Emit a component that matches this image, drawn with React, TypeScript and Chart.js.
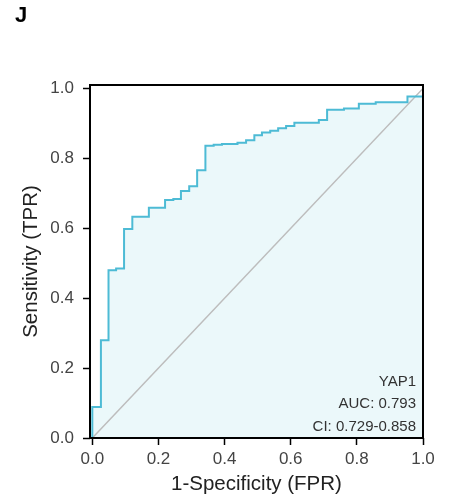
import React, { useEffect, useRef } from "react";
import { Chart, registerables } from "chart.js";

Chart.register(...registerables);

const fpr = [0, 0, 0.026, 0.049, 0.072, 0.096, 0.121, 0.171, 0.22, 0.245, 0.268, 0.293, 0.317, 0.342, 0.367, 0.392, 0.439, 0.465, 0.49, 0.513, 0.538, 0.562, 0.586, 0.611, 0.685, 0.71, 0.761, 0.806, 0.857, 0.953, 1.0, 1.0];
const tpr = [0, 0.089, 0.28, 0.48, 0.485, 0.598, 0.633, 0.659, 0.681, 0.684, 0.707, 0.72, 0.766, 0.836, 0.839, 0.841, 0.845, 0.852, 0.866, 0.874, 0.879, 0.886, 0.893, 0.902, 0.91, 0.939, 0.943, 0.956, 0.961, 0.977, 0.977, 1.0];
const diagX = [0, 1];
const diagY = [0, 1];
const xTicks = [0, 0.2, 0.4, 0.6, 0.8, 1.0];
const yTicks = [0, 0.2, 0.4, 0.6, 0.8, 1.0];
const panelLabel = "J";
const annotation = ["YAP1", "AUC: 0.793", "CI: 0.729-0.858"];
const xTitle = "1-Specificity (FPR)";
const yTitle = "Sensitivity (TPR)";

const FONT = "'Liberation Sans', Arial, sans-serif";

const framePlugin = {
  id: "frameAndText",
  afterDraw(chart: any) {
    const { ctx, chartArea } = chart;
    ctx.save();
    ctx.strokeStyle = "#000";
    ctx.lineWidth = 2;
    ctx.strokeRect(chartArea.left, chartArea.top, chartArea.right - chartArea.left, chartArea.bottom - chartArea.top);
    ctx.fillStyle = "#333";
    ctx.font = `15px ${FONT}`;
    ctx.textAlign = "right";
    ctx.textBaseline = "alphabetic";
    const baselines = [385.5, 408, 430.5];
    annotation.forEach((t, i) => ctx.fillText(t, chartArea.right - 7, baselines[i]));
    ctx.fillStyle = "#000";
    ctx.font = `bold 22px ${FONT}`;
    ctx.textAlign = "left";
    ctx.fillText(panelLabel, 15, 21.5);
    ctx.restore();
  },
};

export default function App() {
  const ref = useRef<HTMLCanvasElement>(null);
  useEffect(() => {
    document.body.style.margin = "0";
    const canvas = ref.current!;
    const chart = new Chart(canvas, {
      type: "line",
      data: {
        datasets: [
          {
            data: fpr.map((x, i) => ({ x, y: tpr[i] })),
            borderColor: "#4DBBD5",
            borderWidth: 2,
            backgroundColor: "rgba(77,187,213,0.11)",
            fill: "origin",
            stepped: "before",
            pointRadius: 0,
            tension: 0,
          },
          {
            data: diagX.map((x, i) => ({ x, y: diagY[i] })),
            borderColor: "#bdbdbd",
            borderWidth: 1.5,
            fill: false,
            pointRadius: 0,
          },
        ],
      },
      options: {
        responsive: false,
        animation: false,
        devicePixelRatio: 1,
        layout: { padding: { left: 0, top: 85, right: 31, bottom: 0 } },
        plugins: {
          legend: { display: false },
          tooltip: { enabled: false },
          filler: { drawTime: "beforeDatasetsDraw" },
        } as any,
        scales: {
          x: {
            type: "linear",
            min: -0.007,
            max: 1.0,
            afterBuildTicks: (s: any) => {
              s.ticks = xTicks.map((v) => ({ value: v }));
            },
            afterFit: (s: any) => {
              s.height = 62;
            },
            grid: { drawOnChartArea: false, drawTicks: true, tickLength: 7, tickColor: "#000", tickWidth: 1.5 } as any,
            border: { display: false },
            ticks: {
              padding: 4,
              color: "#444",
              font: { family: FONT, size: 17 },
              maxRotation: 0,
              callback: (v: any) => Number(v).toFixed(1),
            },
            title: {
              display: true,
              text: xTitle,
              color: "#222",
              font: { family: FONT, size: 20.5 },
              padding: { top: 0, bottom: 3 },
            },
          },
          y: {
            type: "linear",
            min: 0,
            max: 1.01,
            afterBuildTicks: (s: any) => {
              s.ticks = yTicks.map((v) => ({ value: v }));
            },
            afterFit: (s: any) => {
              s.width = 90;
            },
            grid: { drawOnChartArea: false, drawTicks: true, tickLength: 7, tickColor: "#000", tickWidth: 1.5 } as any,
            border: { display: false },
            ticks: {
              padding: 9,
              color: "#444",
              font: { family: FONT, size: 17 },
              callback: (v: any) => Number(v).toFixed(1),
            },
            title: {
              display: true,
              text: yTitle,
              color: "#222",
              font: { family: FONT, size: 20.5 },
              padding: { top: 19, bottom: 0 },
            },
          },
        },
      },
      plugins: [framePlugin],
    });
    return () => chart.destroy();
  }, []);
  return <canvas ref={ref} width={454} height={500} style={{ display: "block" }} />;
}
